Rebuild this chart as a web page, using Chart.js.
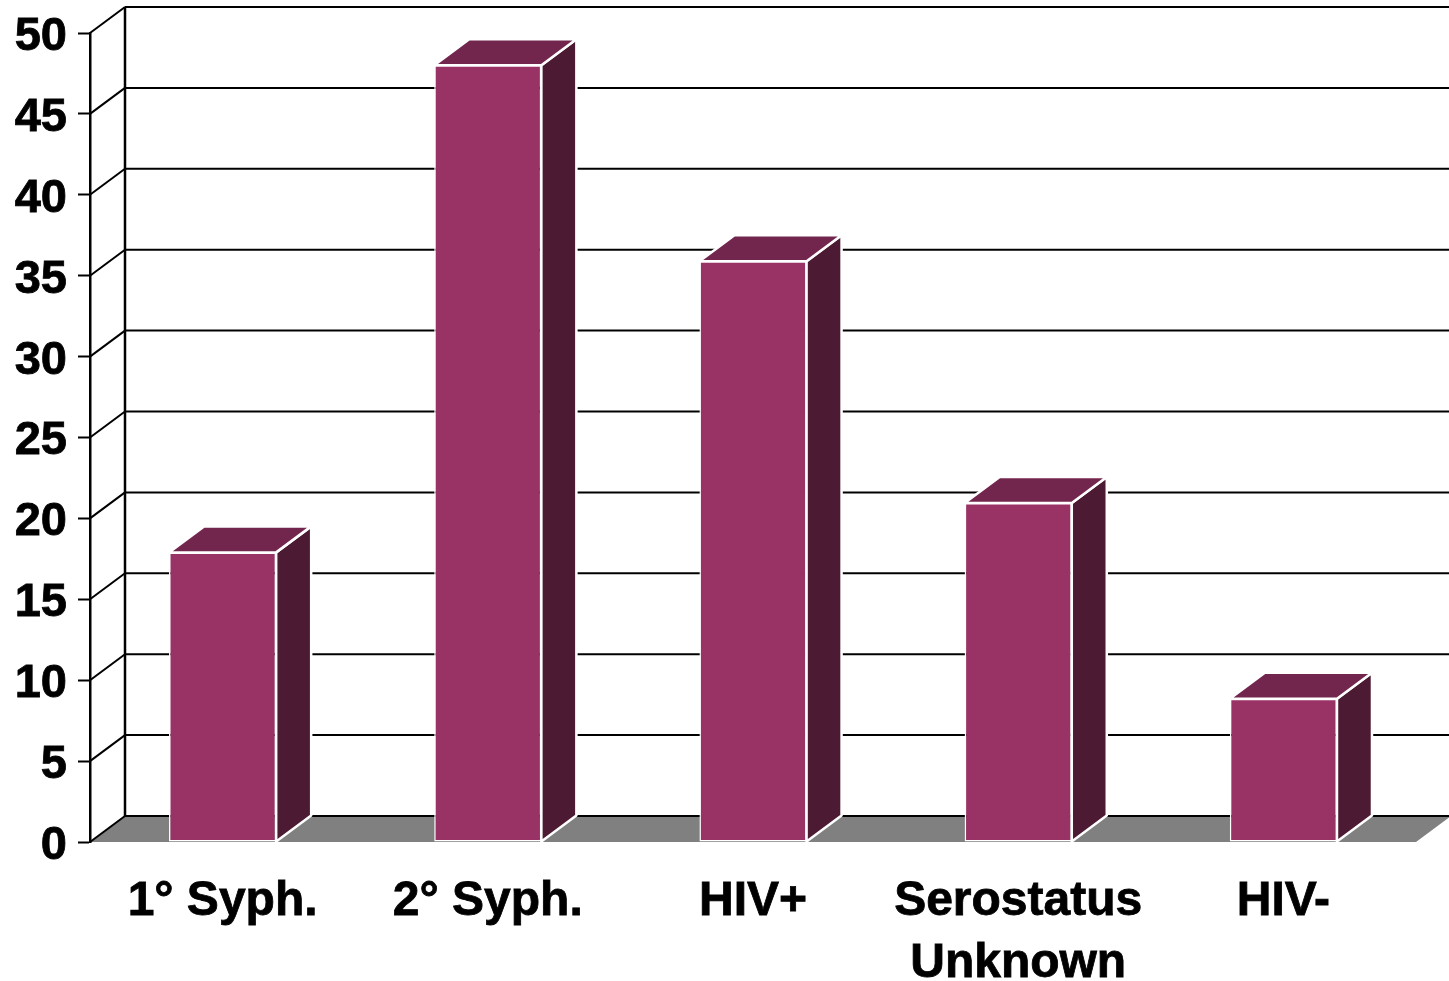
<!DOCTYPE html>
<html>
<head>
<meta charset="utf-8">
<title>Chart</title>
<style>
    html, body { margin: 0; padding: 0; background: #fff; overflow: hidden; }
    canvas { display: block; }
</style>
<script src="https://cdn.jsdelivr.net/npm/chart.js@4"></script>
</head>
<body>
<canvas id="grafico" width="1449" height="981"></canvas>
<script>
// Chart data
const categories = ['1° Syph.', '2° Syph.', 'HIV+', ['Serostatus', 'Unknown'], 'HIV-'];
const values = [17.9, 48, 35.9, 20.95, 8.85];
const yTicks = [0, 5, 10, 15, 20, 25, 30, 35, 40, 45, 50];

// Depth of the fake 3D box, in pixels
const depthX = 35;
const depthY = 26;

// Back wall, floor and grid lines, drawn behind everything
const wallPlugin = {
    id: 'wall',
    beforeDatasetsDraw(chart) {
        const ctx = chart.ctx;
        const y = chart.scales.y;
        const left = chart.chartArea.left;
        const right = chart.chartArea.right;
        const zero = y.getPixelForValue(0);
        const top = y.getPixelForValue(50);

        ctx.save();

        // Floor
        ctx.fillStyle = '#808080';
        ctx.beginPath();
        ctx.moveTo(left, zero);
        ctx.lineTo(left + depthX, zero - depthY);
        ctx.lineTo(right + depthX, zero - depthY);
        ctx.lineTo(right, zero);
        ctx.closePath();
        ctx.fill();

        // Back wall lines and the diagonals on the side wall
        ctx.strokeStyle = '#000';
        ctx.lineWidth = 2;
        for (const v of yTicks) {
            const py = y.getPixelForValue(v);
            ctx.beginPath();
            ctx.moveTo(left + depthX, py - depthY);
            ctx.lineTo(right + depthX, py - depthY);
            ctx.stroke();
            ctx.beginPath();
            ctx.moveTo(left, py);
            ctx.lineTo(left + depthX, py - depthY);
            ctx.stroke();
        }

        // Vertical back edge
        ctx.lineWidth = 2.5;
        ctx.beginPath();
        ctx.moveTo(left + depthX, top - depthY);
        ctx.lineTo(left + depthX, zero - depthY);
        ctx.stroke();

        // Top and side of each bar
        const barras = chart.getDatasetMeta(0).data;
        ctx.strokeStyle = '#fff';
        ctx.lineWidth = 2.5;
        ctx.lineJoin = 'round';
        for (const barra of barras) {
            const p = barra.getProps(['x', 'y', 'width', 'base'], true);
            const x0 = p.x - p.width / 2;
            const x1 = p.x + p.width / 2;

            ctx.fillStyle = '#4d1a33';
            ctx.beginPath();
            ctx.moveTo(x1, p.y);
            ctx.lineTo(x1 + depthX, p.y - depthY);
            ctx.lineTo(x1 + depthX, p.base - depthY);
            ctx.lineTo(x1, p.base);
            ctx.closePath();
            ctx.fill();
            ctx.stroke();

            ctx.fillStyle = '#73264d';
            ctx.beginPath();
            ctx.moveTo(x0, p.y);
            ctx.lineTo(x0 + depthX, p.y - depthY);
            ctx.lineTo(x1 + depthX, p.y - depthY);
            ctx.lineTo(x1, p.y);
            ctx.closePath();
            ctx.fill();
            ctx.stroke();
        }

        ctx.restore();
    }
};

const fonteX = { family: '"Liberation Sans", Arial, sans-serif', size: 48, weight: 'bold', lineHeight: 1.29 };
const fonteY = { family: '"Liberation Sans", Arial, sans-serif', size: 47, weight: 'bold', lineHeight: 1.29 };

new Chart(document.getElementById('grafico'), {
    type: 'bar',
    data: {
        labels: categories,
        datasets: [{
            data: values,
            backgroundColor: '#993366',
            borderColor: '#fff',
            borderWidth: 1.5,
            borderSkipped: false,
            barPercentage: 0.404,
            categoryPercentage: 1
        }]
    },
    plugins: [wallPlugin],
    options: {
        responsive: false,
        animation: false,
        layout: { padding: { top: 33, right: 33, left: 0, bottom: 0 } },
        plugins: {
            legend: { display: false },
            tooltip: { enabled: false }
        },
        scales: {
            x: {
                grid: { display: false },
                border: { display: false },
                ticks: {
                    color: '#000',
                    font: fonteX,
                    padding: 21,
                    maxRotation: 0,
                    minRotation: 0,
                    autoSkip: false,
                    textStrokeColor: '#000',
                    textStrokeWidth: 0.8
                },
                afterFit(scale) { scale.height = 139; }
            },
            y: {
                min: 0,
                max: 50,
                afterBuildTicks(scale) { scale.ticks = yTicks.map(v => ({ value: v })); },
                grid: {
                    drawOnChartArea: false,
                    drawTicks: true,
                    tickLength: 12,
                    tickColor: '#000',
                    tickWidth: 2
                },
                border: { display: true, color: '#000', width: 2.5 },
                ticks: {
                    color: '#000',
                    font: fonteY,
                    padding: 11,
                    labelOffset: 4,
                    textStrokeColor: '#000',
                    textStrokeWidth: 0.8
                },
                afterFit(scale) {
                    // Only the layout padding should set the top of the plot
                    scale.width = 90;
                    scale.paddingTop = 0;
                    scale.paddingBottom = 0;
                }
            }
        }
    }
});
</script>
</body>
</html>
